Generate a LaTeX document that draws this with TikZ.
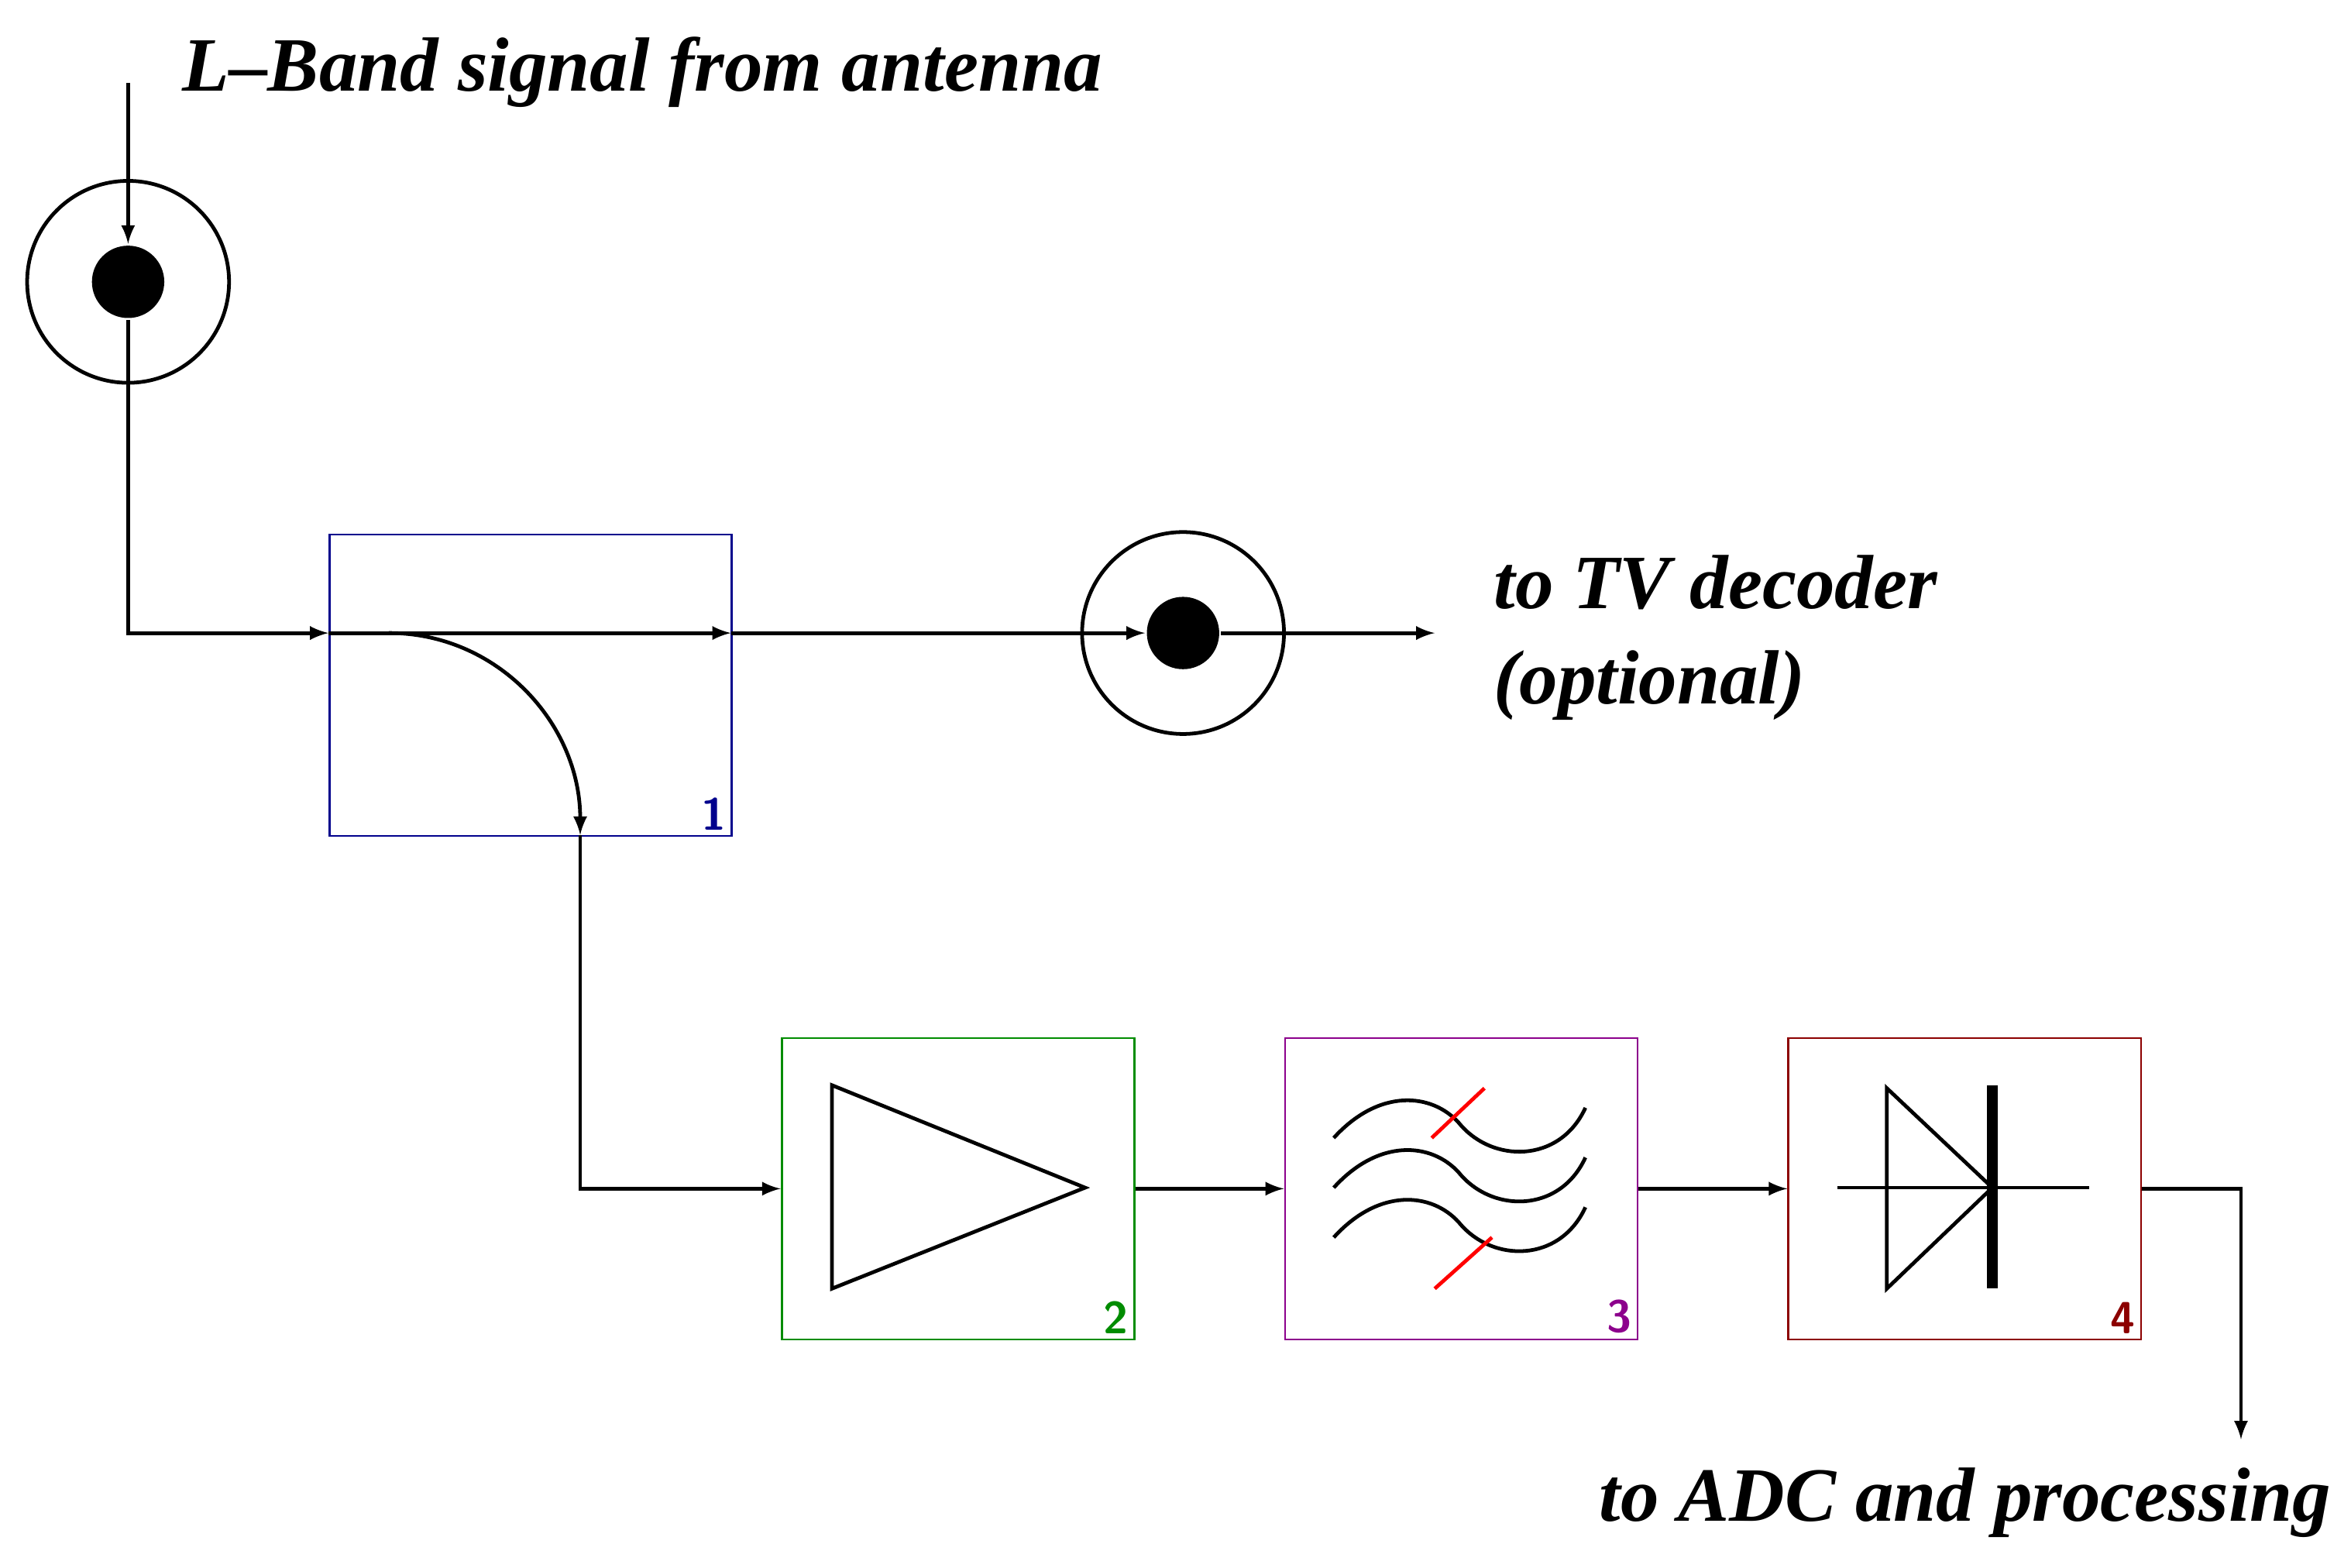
\documentclass[tikz,border=0pt]{standalone}
\usepackage{fontspec}
\setmainfont{Liberation Serif}
\usetikzlibrary{arrows,positioning}
\definecolor{navyblk}{rgb}{0,0,0.55}
\definecolor{grnblk}{rgb}{0,0.55,0}
\definecolor{purblk}{rgb}{0.55,0,0.55}
\definecolor{redblk}{rgb}{0.55,0,0}
\begin{document}
\begin{tikzpicture}[>=latex, x=0.02cm, y=-0.02cm, line width=1.4pt]
	\tikzstyle{blk}=[draw, line width=0.8pt, minimum width=4.68cm, minimum height=4cm, anchor=north west, inner sep=0pt]
	\tikzstyle{num}=[font=\sffamily\bfseries\fontsize{17}{17}\selectfont, anchor=south east, inner sep=2pt]
	\tikzstyle{txt}=[font=\bfseries\itshape\fontsize{29}{36}\selectfont, inner sep=0pt]
	\tikzstyle{dot}=[circle, fill, minimum size=0.96cm, inner sep=0pt]
	\tikzstyle{ring}=[circle, draw, minimum size=2.68cm, inner sep=0pt]
	\useasboundingbox (0,0) rectangle (1560,1040);
	% % Nodes
	% input
	\node[txt, anchor=west] (ant) at (120,48) {L--Band signal from antenna};
	\coordinate (antin) at (85,55);
	\node[ring] (ring1) at (85,187) {};
	\node[dot] (dot1) at (85,187) {};
	% coupler
	\node[blk, draw=navyblk, minimum width=5.34cm] (coup) at (218,354) {};
	\node[num, text=navyblk] at (coup.south east) {1};
	\coordinate (cin) at (218,420);
	\coordinate (cout) at (485,420);
	\coordinate (ctap) at (385,554);
	% output connector
	\node[ring] (ring2) at (785,420) {};
	\node[dot] (dot2) at (785,420) {};
	\coordinate (tvend) at (952,420);
	\node[txt, anchor=west, align=left] (tv) at (990,423) {to TV decoder\\(optional)};
	% amplifier, filter, detector
	\node[blk, draw=grnblk] (amp) at (518,688) {};
	\node[num, text=grnblk] at (amp.south east) {2};
	\node[blk, draw=purblk] (filt) at (852,688) {};
	\node[num, text=purblk] at (filt.south east) {3};
	\node[blk, draw=redblk] (det) at (1186,688) {};
	\node[num, text=redblk] at (det.south east) {4};
	\coordinate (adcend) at (1487,955);
	\node[txt, anchor=east] (adc) at (1548,997) {to ADC and processing};
	% % Symbols
	\draw (552,720) -- (720,788) -- (552,855) -- cycle;
	\foreach \dy in {0,33,66}
		\draw (885,755+\dy) .. controls (915,722+\dy) and (950,725+\dy) .. (968,745+\dy)
			.. controls (990,772+\dy) and (1035,772+\dy) .. (1052,735+\dy);
	\draw[red] (950,755) -- (985,722);
	\draw[red] (952,855) -- (990,821);
	\draw (1219,788) -- (1386,788);
	\draw (1252,722) -- (1322,788) -- (1252,855) -- cycle;
	\draw[line width=4pt] (1322,720) -- (1322,855);
	% % Connectors
	\draw[->] (antin) -- (dot1.north);
	\draw[->] (dot1) |- (cin);
	\draw[->] (cin) -- (cout);
	\draw[->] (cout) -- (dot2.west);
	\draw[->] (dot2) -- (tvend);
	\draw[->] (258,420) .. controls (330,420) and (385,480) .. (ctap);
	\draw[->] (ctap) |- (amp.west);
	\draw[->] (amp.east) -- (filt.west);
	\draw[->] (filt.east) -- (det.west);
	\draw[->] (det.east) -| (adcend);
\end{tikzpicture}
\end{document}
